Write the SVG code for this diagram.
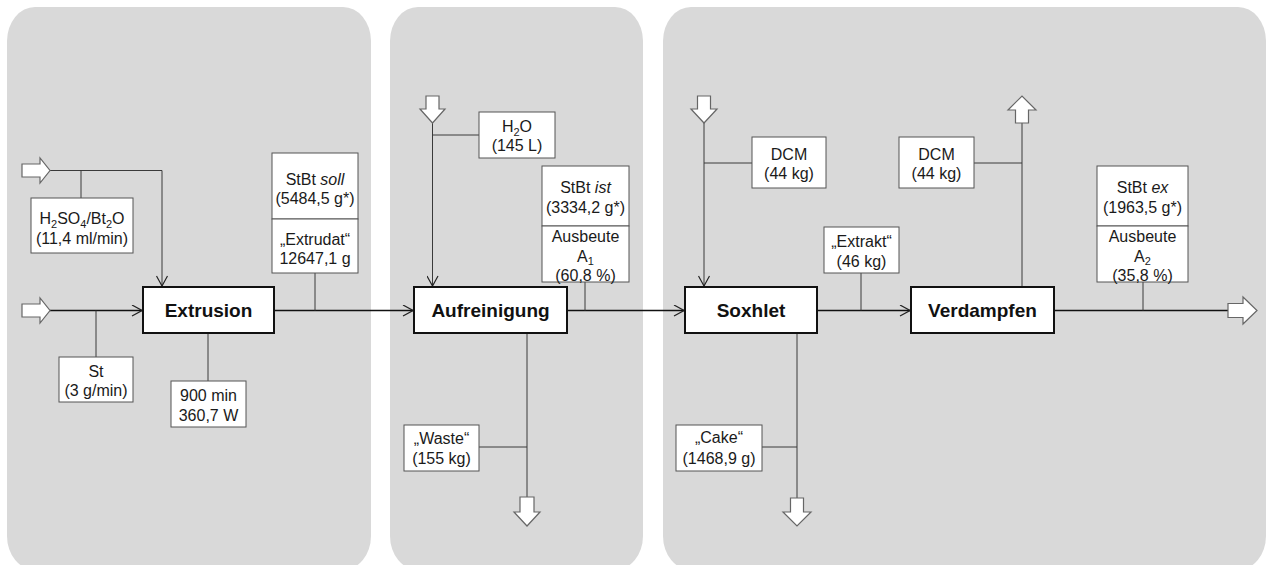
<svg xmlns="http://www.w3.org/2000/svg" width="1269" height="565" viewBox="0 0 1269 565">
<defs>
<marker id="chev" viewBox="0 0 12 12" refX="11" refY="6" markerWidth="12" markerHeight="12" markerUnits="userSpaceOnUse" orient="auto">
<path d="M1,0.5 L11,6 L1,11.5" fill="none" stroke="#222" stroke-width="1.2"/>
</marker>
<style>
.panel{fill:#d9d9d9}
.proc{fill:#fff;stroke:#111;stroke-width:2}
.info{fill:#fff;stroke:#555;stroke-width:1}
.blk{fill:#fff;stroke:#666;stroke-width:1.2}
.thin{fill:none;stroke:#3a3a3a;stroke-width:1}
.main{fill:none;stroke:#111;stroke-width:1.6}
.pt{font-family:"Liberation Sans",Arial,sans-serif;font-size:19px;font-weight:bold;fill:#111;text-anchor:middle}
.it{font-family:"Liberation Sans",Arial,sans-serif;font-size:16px;fill:#1a1a1a;text-anchor:middle}
</style>
</defs>
<g id="panels">
<rect class="panel" x="7" y="7" width="364" height="563" rx="28" ry="34"/>
<rect class="panel" x="390" y="7" width="253" height="563" rx="28" ry="34"/>
<rect class="panel" x="663" y="7" width="603" height="563" rx="28" ry="34"/>
</g>
<g id="connectors">
<polyline class="thin" points="50,170.5 162,170.5 162,286" marker-end="url(#chev)"/>
<line class="thin" x1="81" y1="170.5" x2="81" y2="198"/>
<line class="main" x1="50" y1="310.5" x2="142" y2="310.5" marker-end="url(#chev)"/>
<line class="thin" x1="96" y1="310.5" x2="96" y2="357"/>
<line class="thin" x1="208" y1="333" x2="208" y2="381"/>
<line class="main" x1="274" y1="310.5" x2="413" y2="310.5" marker-end="url(#chev)"/>
<line class="thin" x1="315" y1="273" x2="315" y2="310.5"/>
<line class="thin" x1="432.5" y1="123" x2="432.5" y2="286" marker-end="url(#chev)"/>
<line class="thin" x1="432.5" y1="135" x2="479" y2="135"/>
<line class="main" x1="567" y1="310.5" x2="684" y2="310.5" marker-end="url(#chev)"/>
<line class="thin" x1="585" y1="282" x2="585" y2="310.5"/>
<line class="thin" x1="527" y1="333" x2="527" y2="497"/>
<line class="thin" x1="479" y1="447" x2="527" y2="447"/>
<line class="thin" x1="704" y1="123" x2="704" y2="286" marker-end="url(#chev)"/>
<line class="thin" x1="704" y1="163" x2="752" y2="163"/>
<line class="main" x1="817" y1="310.5" x2="910" y2="310.5" marker-end="url(#chev)"/>
<line class="thin" x1="861" y1="273" x2="861" y2="310.5"/>
<line class="thin" x1="797" y1="333" x2="797" y2="498"/>
<line class="thin" x1="762" y1="447" x2="797" y2="447"/>
<line class="thin" x1="1022" y1="123" x2="1022" y2="287"/>
<line class="thin" x1="974" y1="163" x2="1022" y2="163"/>
<line class="main" x1="1054" y1="310.5" x2="1228" y2="310.5"/>
<line class="thin" x1="1143" y1="282" x2="1143" y2="310.5"/>
</g>
<g id="block-arrows">
<polygon class="blk" points="22,164 40,164 40,158 50,170.5 40,183 40,177 22,177"/>
<polygon class="blk" points="22,304 40,304 40,298 50,310.5 40,323 40,317 22,317"/>
<polygon class="blk" points="426,96 439,96 439,109 445,109 432.5,123 420,109 426,109"/>
<polygon class="blk" points="520,497 534,497 534,512 540,512 527,526 514,512 520,512"/>
<polygon class="blk" points="697.5,96 710.5,96 710.5,109 717,109 704,123 691,109 697.5,109"/>
<polygon class="blk" points="790.5,498 803.5,498 803.5,512 811,512 797,526 783,512 790.5,512"/>
<polygon class="blk" points="1015.5,123 1028.5,123 1028.5,110 1036,110 1022,96 1008,110 1015.5,110"/>
<polygon class="blk" points="1228,303.5 1243,303.5 1243,297 1257,310.5 1243,324 1243,317.5 1228,317.5"/>
</g>
<g id="extrusion">
<rect class="proc" x="143" y="287" width="131" height="46"/>
<text class="pt" x="208.5" y="317">Extrusion</text>
</g>
<g id="h2so4">
<rect class="info" x="31" y="198" width="102" height="55"/>
<text class="it" x="82" y="224">H<tspan font-size="11" dy="4">2</tspan><tspan dy="-4">SO</tspan><tspan font-size="11" dy="4">4</tspan><tspan dy="-4">/Bt</tspan><tspan font-size="11" dy="4">2</tspan><tspan dy="-4">O</tspan></text>
<text class="it" x="82" y="244">(11,4 ml/min)</text>
</g>
<g id="st">
<rect class="info" x="59" y="357" width="74" height="45"/>
<text class="it" x="96" y="377">St</text>
<text class="it" x="96" y="396">(3 g/min)</text>
</g>
<g id="time">
<rect class="info" x="171" y="381" width="75" height="46"/>
<text class="it" x="208.5" y="401">900 min</text>
<text class="it" x="208.5" y="421">360,7 W</text>
</g>
<g id="stbt-soll">
<rect class="info" x="272" y="153" width="86" height="66"/>
<rect class="info" x="272" y="219" width="86" height="54"/>
<text class="it" x="315" y="185">StBt <tspan font-style="italic">soll</tspan></text>
<text class="it" x="315" y="204">(5484,5 g*)</text>
<text class="it" x="315" y="245">„Extrudat“</text>
<text class="it" x="315" y="264">12647,1 g</text>
</g>
<g id="aufreinigung">
<rect class="proc" x="414" y="287" width="153" height="46"/>
<text class="pt" x="490.5" y="317">Aufreinigung</text>
</g>
<g id="h2o">
<rect class="info" x="479" y="112" width="76" height="46"/>
<text class="it" x="517" y="132">H<tspan font-size="11" dy="4">2</tspan><tspan dy="-4">O</tspan></text>
<text class="it" x="517" y="151">(145 L)</text>
</g>
<g id="stbt-ist">
<rect class="info" x="542" y="166" width="87" height="60"/>
<rect class="info" x="542" y="226" width="87" height="56"/>
<text class="it" x="585.5" y="193">StBt <tspan font-style="italic">ist</tspan></text>
<text class="it" x="585.5" y="213">(3334,2 g*)</text>
<text class="it" x="585.5" y="242">Ausbeute</text>
<text class="it" x="585.5" y="262">A<tspan font-size="11" dy="3">1</tspan></text>
<text class="it" x="585.5" y="281">(60,8 %)</text>
</g>
<g id="waste">
<rect class="info" x="404" y="425" width="75" height="46"/>
<text class="it" x="441.5" y="444">„Waste“</text>
<text class="it" x="441.5" y="464">(155 kg)</text>
</g>
<g id="soxhlet">
<rect class="proc" x="685" y="287" width="132" height="46"/>
<text class="pt" x="751" y="317">Soxhlet</text>
</g>
<g id="dcm-in">
<rect class="info" x="752" y="137" width="74" height="51"/>
<text class="it" x="789" y="160">DCM</text>
<text class="it" x="789" y="179">(44 kg)</text>
</g>
<g id="extrakt">
<rect class="info" x="824" y="227" width="75" height="46"/>
<text class="it" x="861.5" y="247">„Extrakt“</text>
<text class="it" x="861.5" y="267">(46 kg)</text>
</g>
<g id="cake">
<rect class="info" x="676" y="425" width="86" height="46"/>
<text class="it" x="719" y="443">„Cake“</text>
<text class="it" x="719" y="464">(1468,9 g)</text>
</g>
<g id="verdampfen">
<rect class="proc" x="911" y="287" width="143" height="46"/>
<text class="pt" x="982.5" y="317">Verdampfen</text>
</g>
<g id="dcm-out">
<rect class="info" x="899" y="137" width="75" height="51"/>
<text class="it" x="936.5" y="160">DCM</text>
<text class="it" x="936.5" y="179">(44 kg)</text>
</g>
<g id="stbt-ex">
<rect class="info" x="1097" y="166" width="91" height="60"/>
<rect class="info" x="1097" y="226" width="91" height="56"/>
<text class="it" x="1142.5" y="193">StBt <tspan font-style="italic">ex</tspan></text>
<text class="it" x="1142.5" y="213">(1963,5 g*)</text>
<text class="it" x="1142.5" y="242">Ausbeute</text>
<text class="it" x="1142.5" y="262">A<tspan font-size="11" dy="3">2</tspan></text>
<text class="it" x="1142.5" y="281">(35,8 %)</text>
</g>
</svg>
